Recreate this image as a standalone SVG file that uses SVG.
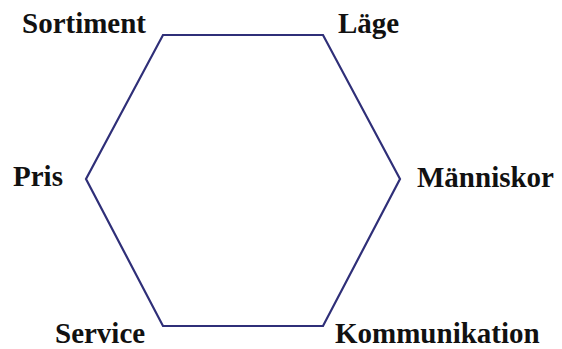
<svg xmlns="http://www.w3.org/2000/svg" width="562" height="349" viewBox="0 0 562 349">
<style>
.lbl{font-family:"Liberation Serif","Times New Roman",serif;font-weight:bold;font-size:29px;fill:#111}
.hex{fill:none;stroke:#2f2f78;stroke-width:2.2;stroke-linejoin:miter}
</style>
<rect width="562" height="349" fill="#ffffff"/>
<g id="connectors">
<polygon class="hex" points="163,35 323,35 400,179 323,326 163,326 86,179"/>
</g>
<g id="sortiment"><text class="lbl" x="22" y="33">Sortiment</text></g>
<g id="lage"><text class="lbl" x="338" y="33">Läge</text></g>
<g id="pris"><text class="lbl" x="13" y="186">Pris</text></g>
<g id="manniskor"><text class="lbl" x="417" y="187">Människor</text></g>
<g id="service"><text class="lbl" x="55" y="343">Service</text></g>
<g id="kommunikation"><text class="lbl" x="335" y="343">Kommunikation</text></g>
</svg>
